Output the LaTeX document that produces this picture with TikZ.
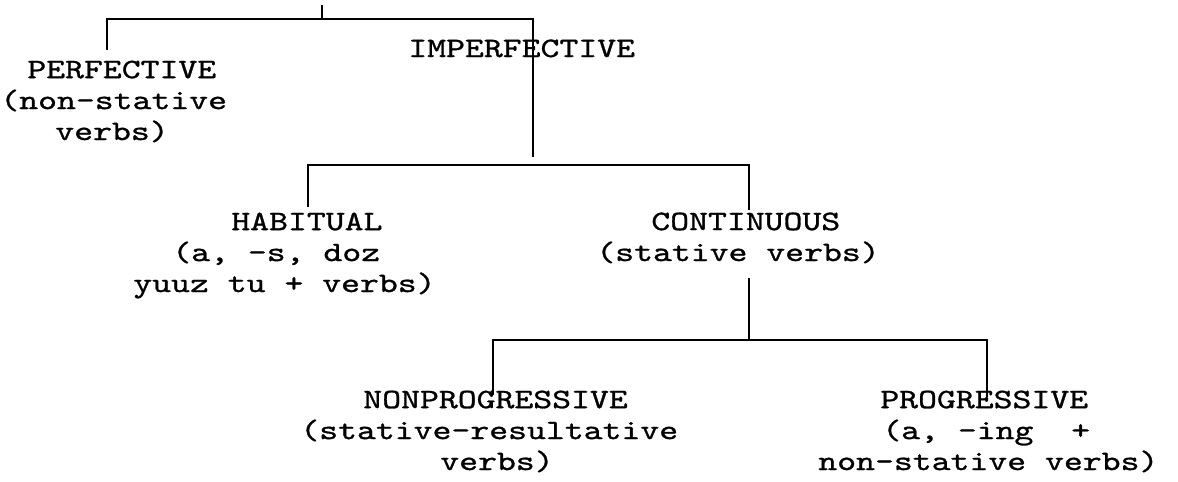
\documentclass[tikz,border=0pt]{standalone}
\usepackage{fontspec}
\newfontfamily\typer{lmmono10-regular.otf}[FakeStretch=1.28,FakeBold=1]
\tikzset{
  branch/.style={line width=1.3pt},
  term/.style={font={\typer\fontsize{16pt}{17.6pt}\selectfont},
    align=left, anchor=base west, inner sep=0pt},
}
\begin{document}
\begin{tikzpicture}[x=0.02cm, y=-0.02cm]
  \useasboundingbox (0,0) rectangle (1178,481);

  % Marking node PERFECTIVE
  \node (perf) [term] at (0,140)
    {\hspace*{0.54cm}PERFECTIVE\\(non-stative\\\hspace*{1.1cm}verbs)};

  % Marking node IMPERFECTIVE
  \node (imperf) [term] at (408,57) {IMPERFECTIVE};

  % Marking node HABITUAL
  \node (habit) [term] at (133,292)
    {\hspace*{1.96cm}HABITUAL\\\hspace*{0.78cm}(a, -s, doz\\yuuz tu + verbs)};

  % Marking node CONTINUOUS
  \node (contin) [term] at (596,261)
    {\hspace*{1.1cm}CONTINUOUS\\(stative verbs)};

  % Marking node NONPROGRESSIVE
  \node (nonprog) [term] at (300,470)
    {\hspace*{1.26cm}NONPROGRESSIVE\\(stative-resultative\\\hspace*{2.8cm}verbs)};

  % Marking node PROGRESSIVE
  \node (prog) [term] at (818,470)
    {\hspace*{1.24cm}PROGRESSIVE\\\hspace*{1.28cm}(a, -ing\ \ +\\non-stative verbs)};

  % Branch points
  \coordinate (top) at (322,5);
  \coordinate (t1) at (322,19);
  \coordinate (b1l) at (107,19);
  \coordinate (b1r) at (533,19);
  \coordinate (p1) at (107,50);
  \coordinate (i1) at (533,157);
  \coordinate (b2l) at (308,165);
  \coordinate (b2r) at (749,165);
  \coordinate (h1) at (308,207);
  \coordinate (c1) at (749,210);
  \coordinate (c2) at (749,278);
  \coordinate (b3m) at (749,340);
  \coordinate (b3l) at (493,340);
  \coordinate (b3r) at (987,340);
  \coordinate (n1) at (493,395);
  \coordinate (g1) at (987,397);

  % Drawing line from the top
  \draw [branch] (top) -- (t1);

  % Drawing line PERFECTIVE / IMPERFECTIVE
  \draw [branch] (p1) -- (b1l) -- (b1r) -- (i1);

  % Drawing line HABITUAL / CONTINUOUS
  \draw [branch] (h1) -- (b2l) -- (b2r) -- (c1);

  % Drawing line below CONTINUOUS
  \draw [branch] (c2) -- (b3m);

  % Drawing line NONPROGRESSIVE / PROGRESSIVE
  \draw [branch] (n1) -- (b3l) -- (b3r) -- (g1);
\end{tikzpicture}
\end{document}
